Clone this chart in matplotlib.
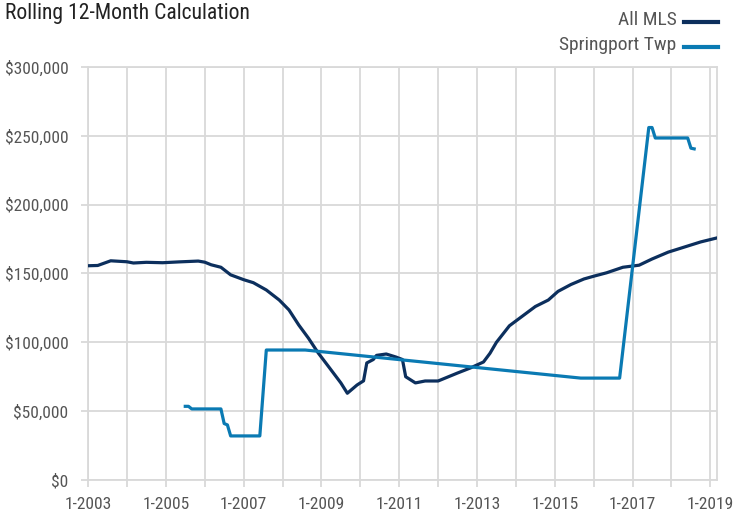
import matplotlib.pyplot as plt

# months since 1-2003
mls_month = [0, 3, 7, 12, 14, 18, 23, 28, 34, 36, 38, 41, 44, 48, 51, 55, 59, 62,
             65, 68, 71, 74, 78, 80, 83, 85, 86, 88, 89, 92, 95, 97, 98, 101, 104,
             108, 111, 114, 118, 122, 124, 126, 128, 130, 134, 138, 142, 145, 149,
             153, 156, 160, 165, 170, 174, 179, 184, 189, 194]
mls_price = [155.6, 155.8, 159.2, 158.5, 157.6, 158.1, 157.8, 158.4, 159.0, 158.2,
             156.3, 154.5, 149.0, 145.5, 143.3, 138.0, 130.7, 123.5, 112.6, 103.0,
             92.3, 83.0, 70.5, 63.0, 69.0, 72.0, 85.0, 87.5, 90.5, 91.5, 89.3, 87.5,
             75.0, 70.5, 71.9, 71.9, 74.8, 77.7, 81.4, 85.7, 92.0, 100.0, 106.0,
             112.0, 119.0, 126.0, 130.7, 137.0, 142.0, 146.0, 148.0, 150.5, 154.5,
             156.0, 160.5, 165.5, 169.2, 172.9, 175.8]

twp_month = [30, 31, 32, 41, 42, 43, 44, 53, 55, 67, 152, 164, 173, 174, 175, 185, 186, 187]
twp_price = [53.5, 53.5, 51.6, 51.6, 41.0, 40.0, 32.0, 32.0, 94.4, 94.4, 74.0, 74.0,
             256.0, 256.0, 248.4, 248.4, 241.0, 240.5]

year_ticks = list(range(0, 193, 12))
year_labels = ['1-%d' % (2003 + m // 12) if (m // 12) % 2 == 0 else '' for m in year_ticks]
price_ticks = [0, 50000, 100000, 150000, 200000, 250000, 300000]

plt.rcParams['font.family'] = ['Roboto Condensed', 'Archivo Narrow', 'Roboto', 'DejaVu Sans']
grid_c = '#d9d9d9'
text_c = '#555555'

fig = plt.figure(figsize=(7.36, 5.15), dpi=100)
ax = fig.add_axes([0.1196, 0.068, 0.974 - 0.1196, 0.802])

ax.plot(mls_month, [v * 1000 for v in mls_price], color='#0c2f5d', lw=2.3,
        solid_joinstyle='round', zorder=3)
ax.plot(twp_month, [v * 1000 for v in twp_price], color='#0a7ab3', lw=2.3,
        solid_joinstyle='round', zorder=3)

ax.set_xlim(0, 194)
ax.set_ylim(0, 300000)
ax.set_xticks(year_ticks)
ax.set_xticklabels(year_labels)
ax.set_yticks(price_ticks)
ax.set_yticklabels(['${:,.0f}'.format(v) for v in price_ticks])
ax.grid(True, color=grid_c, lw=1.3)
ax.set_axisbelow(True)
for s in ax.spines.values():
    s.set_color(grid_c)
    s.set_linewidth(1.3)
ax.tick_params(axis='both', colors=grid_c, labelcolor=text_c, labelsize=12.5,
               length=5, width=1.3)
ax.tick_params(axis='x', pad=7)
ax.tick_params(axis='y', pad=9)

fig.text(0.007, 0.973, 'Rolling 12-Month Calculation', fontsize=15.6, color='#222222',
         va='center', ha='left')

# legend, text left of line
leg = [('All MLS', '#0c2f5d', 0.962), ('Springport Twp', '#0a7ab3', 0.912)]
for name, col, yy in leg:
    fig.text(0.919, yy, name, fontsize=14, color=text_c, ha='right', va='center')
    fig.add_artist(plt.Line2D([0.929, 0.975], [yy - 0.004, yy - 0.004], color=col,
                              lw=3, transform=fig.transFigure))

fig.savefig('out.png', dpi=100)
